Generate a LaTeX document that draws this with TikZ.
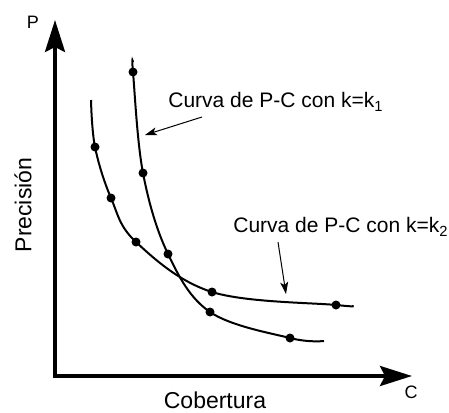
\documentclass[tikz,border=0pt]{standalone}
\usepackage{fontspec}
\setmainfont{Liberation Sans}
\usetikzlibrary{arrows.meta, positioning, calc}

\begin{document}
\begin{tikzpicture}[x=0.5pt, y=-0.5pt, font=\fontsize{11.5}{13}\selectfont,
        axis/.style={line width=1.8pt, line join=miter,
                {Stealth[length=16pt, width=10pt, inset=2.5pt]}-{Stealth[length=16pt, width=10pt, inset=2.5pt]}},
        curve/.style={line width=1pt},
        dot/.style={circle, fill, inner sep=0pt, minimum size=4.5pt},
        note/.style={font=\fontsize{10.5}{12}\selectfont, anchor=west, inner sep=0pt},
        pointer/.style={line width=0.5pt, -{Stealth[length=6pt, width=4pt, inset=1.5pt]}}]
                \useasboundingbox (0,0) rectangle (449,412);
                % axes
                \coordinate (origin) at (55,376);
                \coordinate (ptip) at (55,20);
                \coordinate (ctip) at (412,376);
                \draw[axis] (ptip) -- (origin) -- (ctip);
                \node[font=\fontsize{9}{11}\selectfont] (plabel) at (33,22) {P};
                \node[font=\fontsize{9}{11}\selectfont] (clabel) at (411,392) {C};
                \node[rotate=90] (prec) at (23,205) {Precisión};
                \node (cob) at (215,400) {Cobertura};
                % curva k1
                \node[dot] (a1) at (133,72) {};
                \node[dot] (a2) at (143,173) {};
                \node[dot] (a3) at (168,254) {};
                \node[dot] (a4) at (210,312) {};
                \node[dot] (a5) at (290,338) {};
                \coordinate (a0) at (133,62);
                \coordinate (a6) at (324,341);
                \draw[curve] plot[smooth, tension=0.6] coordinates
                        {(a0) (a1.center) (a2.center) (a3.center) (a4.center) (a5.center) (a6)};
                % curva k2
                \node[dot] (b1) at (95,147) {};
                \node[dot] (b2) at (111,198) {};
                \node[dot] (b3) at (136,242) {};
                \node[dot] (b4) at (212,292) {};
                \node[dot] (b5) at (336,305) {};
                \coordinate (b0) at (91,100);
                \coordinate (b6) at (352,306);
                \draw[curve] plot[smooth, tension=0.6] coordinates
                        {(b0) (b1.center) (b2.center) (b3.center) (b4.center) (b5.center) (b6)};
                % etiquetas
                \node[note] (k1text) at (168,102) {Curva de P-C con k=k\textsubscript{1}};
                \node[note] (k2text) at (233,227) {Curva de P-C con k=k\textsubscript{2}};
                \coordinate (k1from) at (202,117);
                \coordinate (k1to) at (145,135);
                \coordinate (k2from) at (278,242);
                \coordinate (k2to) at (286,294);
                \draw[pointer] (k1from) -- (k1to);
                \draw[pointer] (k2from) -- (k2to);
\end{tikzpicture}
\end{document}
